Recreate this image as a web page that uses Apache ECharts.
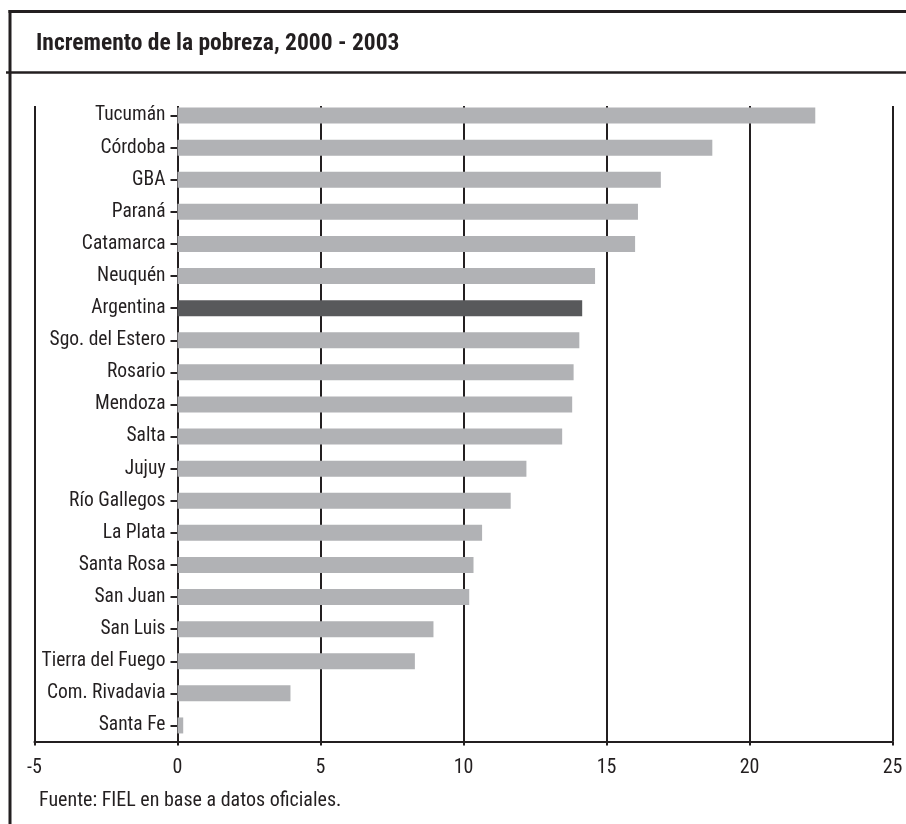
<!DOCTYPE html>
<html>
<head>
<meta charset="utf-8">
<script src="https://cdn.jsdelivr.net/npm/echarts@6/dist/echarts.min.js"></script>
<style>
html,body{margin:0;padding:0;background:#fff;}
#chart{width:906px;height:824px;}
</style>
</head>
<body>
<div id="chart"></div>
<script>
var titleText = 'Incremento de la pobreza, 2000 - 2003';
var footerText = 'Fuente: FIEL en base a datos oficiales.';
var categories = ['Tucumán','Córdoba','GBA','Paraná','Catamarca','Neuquén','Argentina','Sgo. del Estero','Rosario','Mendoza','Salta','Jujuy','Río Gallegos','La Plata','Santa Rosa','San Juan','San Luis','Tierra del Fuego','Com. Rivadavia','Santa Fe'];
var values = [22.3,18.7,16.9,16.1,16.0,14.6,14.15,14.05,13.85,13.8,13.45,12.2,11.65,10.65,10.35,10.2,8.95,8.3,3.95,0.2];
var highlighted = 'Argentina';
var xMin = -5, xMax = 25, xStep = 5;

var FONT = 'Roboto,"DejaVu Sans Condensed",sans-serif';
var REG = 'normal condensed';
var BOLD = 'bold condensed';
var INK = '#231f20';
var BAR = '#b1b2b5';
var BAR_HI = '#58595b';

var chart = echarts.init(document.getElementById('chart'), null, {renderer:'canvas'});
var seriesData = values.map(function(v, i){
  return categories[i] === highlighted ? {value:v, itemStyle:{color:BAR_HI}} : v;
});

chart.setOption({
  animation:false,
  backgroundColor:'#fff',
  title:[
    {text:titleText, left:36, top:32, padding:0,
     textStyle:{fontFamily:FONT, fontSize:23.5, fontStyle:'normal', fontWeight:BOLD, color:INK}},
    {text:footerText, left:39, top:791, padding:0,
     textStyle:{fontFamily:FONT, fontSize:20, fontStyle:'normal', fontWeight:REG, color:INK}}
  ],
  graphic:[
    {type:'line', shape:{x1:10, y1:10, x2:10, y2:824}, style:{stroke:INK, lineWidth:3}, z:10},
    {type:'line', shape:{x1:8.5, y1:11.5, x2:906, y2:11.5}, style:{stroke:INK, lineWidth:3}, z:10},
    {type:'line', shape:{x1:6, y1:72.5, x2:906, y2:72.5}, style:{stroke:INK, lineWidth:2.5}, z:10}
  ],
  grid:[
    {left:34.5, right:13.5, top:99.5, bottom:82.5, containLabel:false, outerBoundsMode:'none'},
    {left:34.5, right:13.5, top:106, bottom:82.5, containLabel:false, outerBoundsMode:'none'}
  ],
  xAxis:[
    {type:'value', gridIndex:0, min:xMin, max:xMax, interval:xStep,
     axisLine:{show:true, lineStyle:{color:INK, width:2.2}},
     axisTick:{show:true, length:4, lineStyle:{color:INK, width:2}},
     splitLine:{show:false},
     axisLabel:{color:INK, fontFamily:FONT, fontSize:20, fontStyle:'normal', fontWeight:REG, margin:16}},
    {type:'value', gridIndex:1, min:xMin, max:xMax, interval:xStep,
     axisLine:{show:false}, axisTick:{show:false}, axisLabel:{show:false},
     splitLine:{show:true, lineStyle:{color:INK, width:2}}}
  ],
  yAxis:[
    {type:'category', gridIndex:0, data:categories, inverse:true, offset:0,
     axisLine:{show:false, onZero:false},
     axisTick:{show:true, alignWithLabel:true, length:7, lineStyle:{color:INK, width:2}},
     axisLabel:{color:INK, fontFamily:FONT, fontSize:19.5, fontStyle:'normal', fontWeight:REG, margin:12}},
    {type:'value', gridIndex:1, show:false, min:0, max:1}
  ],
  series:[
    {type:'bar', xAxisIndex:0, yAxisIndex:0, data:seriesData, barWidth:16,
     itemStyle:{color:BAR}, z:3}
  ]
});

// place the category axis (ticks + labels) at value 0, measured through the library's scale
var pxZero = chart.convertToPixel({xAxisIndex:0}, 0);
var pxMin = chart.convertToPixel({xAxisIndex:0}, xMin);
chart.setOption({yAxis:[{offset: -(pxZero - pxMin)}, {}]});
</script>
</body>
</html>
